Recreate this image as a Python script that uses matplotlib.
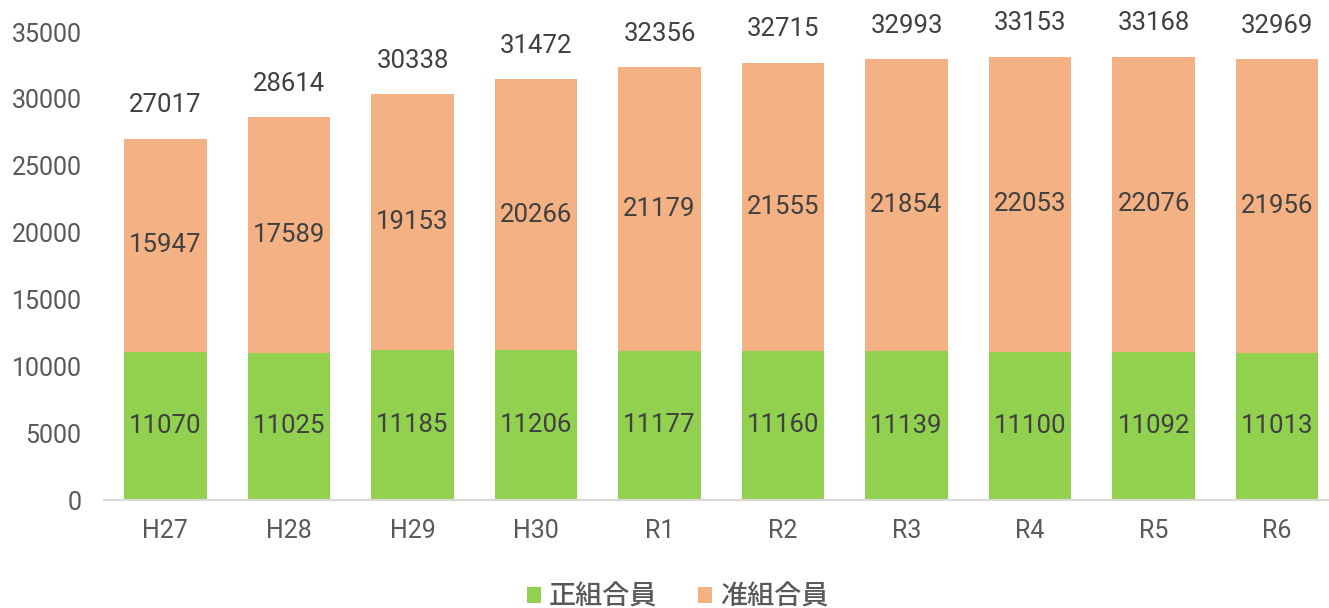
import matplotlib.pyplot as plt

# fiscal years and member counts
years = ["H27", "H28", "H29", "H30", "R1", "R2", "R3", "R4", "R5", "R6"]
regular = [11070, 11025, 11185, 11206, 11177, 11160, 11139, 11100, 11092, 11013]
associate = [15947, 17589, 19153, 20266, 21179, 21555, 21854, 22053, 22076, 21956]
totals = [r + a for r, a in zip(regular, associate)]

jp_font = "Noto Sans CJK JP"
plt.rcParams["font.family"] = ["Roboto", jp_font, "DejaVu Sans"]

fig = plt.figure(figsize=(13.29, 6.08), dpi=100)
ax = fig.add_axes([0.078, 0.1776, 0.922, 0.7697])

x = list(range(len(years)))
b1 = ax.bar(x, regular, width=0.667, color="#92D050", label="正組合員")
b2 = ax.bar(x, associate, width=0.667, bottom=regular, color="#F4B183", label="准組合員")

for i in x:
    ax.text(i, regular[i] / 2, str(regular[i]), ha="center", va="center",
            fontsize=18.5, color="#404040")
    ax.text(i, regular[i] + associate[i] / 2, str(associate[i]), ha="center",
            va="center", fontsize=18.5, color="#404040")
    ax.annotate(str(totals[i]), (i, totals[i]), xytext=(0, 24),
                textcoords="offset points", ha="center", va="center",
                fontsize=18.5, color="#404040")

ax.set_xlim(-0.5, 9.42)
ax.set_ylim(0, 35000)
ax.set_yticks(range(0, 35001, 5000))
ax.set_xticks(x)
ax.set_xticklabels(years)
ax.tick_params(axis="both", length=0, labelsize=18, labelcolor="#595959")
ax.tick_params(axis="x", pad=14)
ax.tick_params(axis="y", pad=16)

for s in ["top", "right", "left"]:
    ax.spines[s].set_visible(False)
ax.spines["bottom"].set_color("#D9D9D9")
ax.spines["bottom"].set_linewidth(1.5)

leg = fig.legend(handles=[b1, b2], loc="center", bbox_to_anchor=(0.51, 0.018),
                 ncol=2, frameon=False, handlelength=0.5, handleheight=0.5,
                 handletextpad=0.3, columnspacing=1.5,
                 prop={"family": jp_font, "size": 19.5, "weight": "medium"})
for t in leg.get_texts():
    t.set_color("#595959")

fig.savefig("out.png", dpi=100)
